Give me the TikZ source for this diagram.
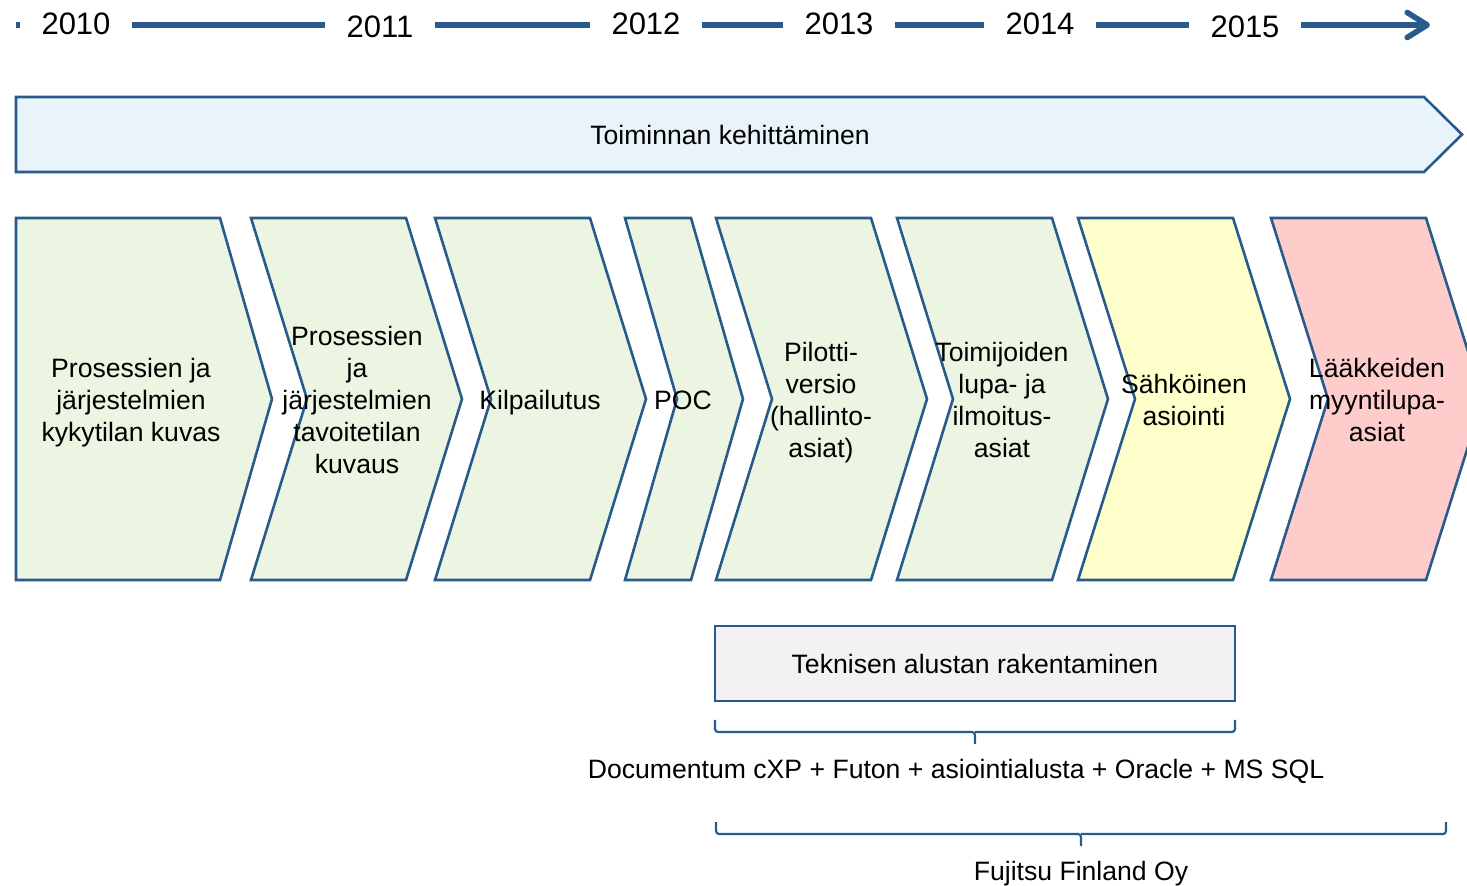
\documentclass[tikz,border=0pt]{standalone}
\usepackage{fontspec}
\setmainfont{Liberation Sans}
\usetikzlibrary{arrows.meta}
\definecolor{tlblue}{RGB}{40,90,140}
\definecolor{paleblue}{RGB}{232,243,250}
\definecolor{palegreen}{RGB}{236,245,225}
\definecolor{paleyellow}{RGB}{255,255,204}
\definecolor{palepink}{RGB}{255,204,204}
\definecolor{palegray}{RGB}{242,242,242}
\begin{document}
\begin{tikzpicture}[x=0.5pt,y=-0.5pt,
                    year/.style = {font=\fontsize{15.5}{18}\selectfont, inner sep=0pt},
                    tline/.style = {tlblue, line width=2.8pt},
                    stage/.style = {draw=tlblue, line width=1.3pt},
                    boxtext/.style = {font=\fontsize{13.3}{16}\selectfont, align=center, inner sep=0pt},
                    brace/.style = {tlblue, line width=1.1pt, rounded corners=1.5pt}]
                    \useasboundingbox (0,0) rectangle (1467,886);
                    % Timeline
                    \node[year] (y2010) at (76,24) {2010};
                    \node[year] (y2011) at (380,27) {2011};
                    \node[year] (y2012) at (646,24) {2012};
                    \node[year] (y2013) at (839,24) {2013};
                    \node[year] (y2014) at (1040,24) {2014};
                    \node[year] (y2015) at (1245,27) {2015};
                    \coordinate (tlstart) at (16,25);
                    \coordinate (tlend) at (1430,25);

                    \draw[tline, shorten >=10.5pt] (tlstart) -- (tlstart -| y2010.west);
                    \foreach \a/\b in {y2010/y2011, y2011/y2012, y2012/y2013, y2013/y2014, y2014/y2015}
                        \draw[tline, shorten <=10.5pt, shorten >=10.5pt] (\a.east |- tlstart) -- (\b.west |- tlstart);
                    \draw[tline, shorten <=10.5pt, -{Straight Barb[round, length=10pt, width=12.5pt]}] (y2015.east |- tlstart) -- (tlend);

                    % Top arrow
                    \draw[stage, fill=paleblue] (16,97) -- (1424,97) -- (1462,134.5) -- (1424,172) -- (16,172) -- cycle;
                    \node[boxtext] (dev) at (730,135) {Toiminnan kehittäminen};

                    % Chevrons
                    \draw[stage, fill=palegreen] (16,218) -- (220,218) -- (272,399) -- (220,580) -- (16,580) -- cycle;
                    \foreach \l/\r/\d/\col in {251/406/56/palegreen, 435/590/56/palegreen, 625/691/52/palegreen,
                                               716/871/56/palegreen, 897/1052/56/palegreen,
                                               1078/1233/57/paleyellow, 1271/1426/57/palepink}
                        \draw[stage, fill=\col] (\l,218) -- (\r,218) -- (\r+\d,399) -- (\r,580) -- (\l,580) -- (\l+\d,399) -- cycle;

                    \node[boxtext] (s1) at (131,403) {Prosessien ja\\järjestelmien\\kykytilan kuvas};
                    \node[boxtext] (s2) at (357,400) {Prosessien\\ja\\järjestelmien\\tavoitetilan\\kuvaus};
                    \node[boxtext] (s3) at (540,403) {Kilpailutus};
                    \node[boxtext] (s4) at (683,400) {POC};
                    \node[boxtext] (s5) at (821,403) {Pilotti-\\versio\\(hallinto-\\asiat)};
                    \node[boxtext] (s6) at (1002,400) {Toimijoiden\\lupa- ja\\ilmoitus-\\asiat};
                    \node[boxtext] (s7) at (1184,400) {Sähköinen\\asiointi};
                    \node[boxtext] (s8) at (1377,400) {Lääkkeiden\\myyntilupa-\\asiat};

                    % Platform
                    \node[stage, boxtext, fill=palegray, minimum width=260pt, minimum height=37.5pt] (tech) at (975,663.5) {Teknisen alustan rakentaminen};
                    \draw[brace] (715,720) |- (975,732) -- (975,744);
                    \draw[brace] (1235,720) |- (975,732);
                    \node[boxtext] (stack) at (956,771) {Documentum cXP + Futon + asiointialusta + Oracle + MS SQL};

                    \draw[brace] (716,822) |- (1081,834) -- (1081,846);
                    \draw[brace] (1446,822) |- (1081,834);
                    \node[boxtext] (vendor) at (1081,874) {Fujitsu Finland Oy};
                \end{tikzpicture}
\end{document}
